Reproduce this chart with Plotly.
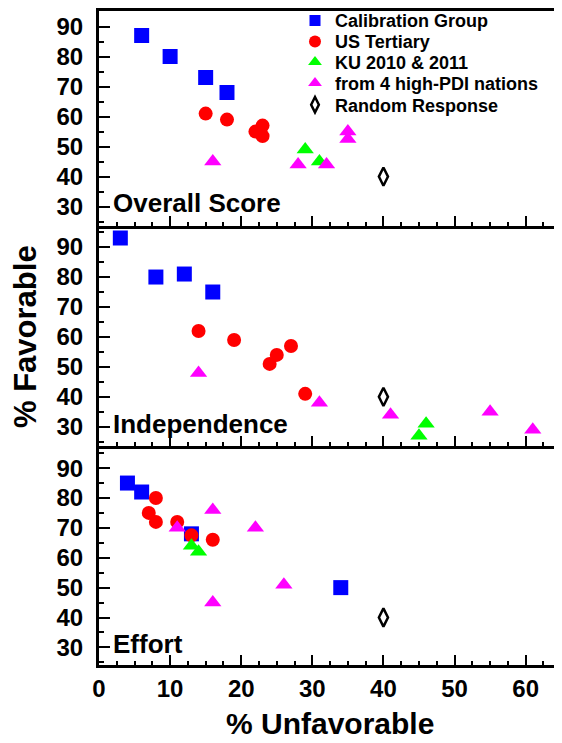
import plotly.graph_objects as go

# ---------------- data ----------------
panel_labels = ["Overall Score", "Independence", "Effort"]

series_names = ["Calibration Group", "US Tertiary", "KU 2010 & 2011",
                "from 4 high-PDI nations", "Random Response"]

cal_x = [[6, 10, 15, 18], [3, 8, 12, 16], [4, 6, 13, 34]]
cal_y = [[87, 80, 73, 68], [93, 80, 81, 75], [85, 82, 68, 50]]

us_x = [[15, 18, 22, 23, 23], [14, 19, 24, 25, 27, 29], [8, 7, 8, 11, 13, 16]]
us_y = [[61, 59, 55, 57, 53.5], [62, 59, 51, 54, 57, 41], [80, 75, 72, 72, 67.5, 66]]

ku_x = [[29, 31], [45, 46], [13, 14]]
ku_y = [[49, 45], [27, 31], [64, 62]]

pdi_x = [[16, 28, 32, 35, 35], [14, 31, 41, 55, 61], [16, 22, 11, 26, 16]]
pdi_y = [[45, 44, 44, 55, 52.5], [48, 38, 34, 35, 29], [76, 70, 70, 51, 45]]

rand_x = [[40], [40], [40]]
rand_y = [[40], [40], [40]]

x_ticks = [0, 10, 20, 30, 40, 50, 60]
y_ticks = [30, 40, 50, 60, 70, 80, 90]

# ---------------- geometry / styles ----------------
W, H = 554, 735          # page has an 8px body margin
L, R, T, B = 91, 4, 3, 78
PW, PH = W - L - R, H - T - B
OFF = 8                  # body margin offset (page px -> figure px)

FONT = "Liberation Sans, Arial, Helvetica, sans-serif"
styles = [
    dict(symbol="square", color="#0000FF", size=15, line=dict(width=0)),
    dict(symbol="circle", color="#FF0000", size=14, line=dict(width=0)),
    dict(symbol="triangle-up", color="#00FF00", size=15, line=dict(width=0)),
    dict(symbol="triangle-up", color="#FF00FF", size=15, line=dict(width=0)),
    dict(symbol="diamond-tall-open", color="black", size=13,
         line=dict(width=2.5, color="black")),
]
legend_styles = [
    dict(symbol="square", color="#0000FF", size=11, line=dict(width=0)),
    dict(symbol="circle", color="#FF0000", size=12, line=dict(width=0)),
    dict(symbol="triangle-up", color="#00FF00", size=12, line=dict(width=0)),
    dict(symbol="triangle-up", color="#FF00FF", size=12, line=dict(width=0)),
    dict(symbol="diamond-tall-open", color="black", size=11,
         line=dict(width=2.5, color="black")),
]

all_x = [cal_x, us_x, ku_x, pdi_x, rand_x]
all_y = [cal_y, us_y, ku_y, pdi_y, rand_y]


def py_to_paper(page_y):
    return (T + PH - (page_y - OFF)) / PH


def px_to_paper(page_x):
    return (page_x - OFF - L) / PW


fig = go.Figure()
for p in range(3):
    xa = "x" if p == 0 else f"x{p+1}"
    ya = "y" if p == 0 else f"y{p+1}"
    for s in range(5):
        fig.add_trace(go.Scatter(
            x=all_x[s][p], y=all_y[s][p], mode="markers",
            marker=styles[s], xaxis=xa, yaxis=ya, showlegend=False,
            name=series_names[s], hoverinfo="x+y+name"))

# legend entries (one legend per row so the rows can be spaced tightly)
legend_rows_px = [20.7, 41.7, 62.3, 83.3, 105.0]
for s in range(5):
    key = "legend" if s == 0 else f"legend{s+1}"
    fig.add_trace(go.Scatter(
        x=[None], y=[None], mode="markers", marker=legend_styles[s],
        name=series_names[s], legend=key, showlegend=True))
    fig.update_layout({key: dict(
        x=px_to_paper(295), y=py_to_paper(legend_rows_px[s]),
        xanchor="left", yanchor="middle",
        bgcolor="rgba(0,0,0,0)", borderwidth=0,
        font=dict(family=FONT, size=18, color="black", weight="bold"),
        itemwidth=30)})

axis_common = dict(showgrid=False, zeroline=False, showline=True,
                   linecolor="black", linewidth=3, ticks="inside",
                   tickcolor="black", tickwidth=2, automargin=False)

# panel boundaries in page pixels (plot-area edges)
bounds_px = [11, 225.8, 446, 665]
domains = []
for p in range(3):
    domains.append([max(0.0, py_to_paper(bounds_px[p + 1])),
                    min(1.0, py_to_paper(bounds_px[p]))])
domains[2][0] = 0.0
domains[0][1] = 1.0
y_ranges = [[23.6, 95.2], [23.6, 97.1], [24.1, 97.4]]

layout = dict(
    width=W, height=H,
    margin=dict(l=L, r=R, t=T, b=B, autoexpand=False),
    paper_bgcolor="white", plot_bgcolor="white",
    font=dict(family=FONT, color="black"),
)
for p in range(3):
    xk = "xaxis" if p == 0 else f"xaxis{p+1}"
    yk = "yaxis" if p == 0 else f"yaxis{p+1}"
    ya = "y" if p == 0 else f"y{p+1}"
    xa = "x" if p == 0 else f"x{p+1}"
    layout[xk] = dict(axis_common, anchor=ya, range=[0, 64.55],
                      tickvals=x_ticks, ticklen=10,
                      minor=dict(dtick=2.5, tick0=0, ticks="inside", ticklen=4,
                                 tickwidth=2, tickcolor="black"),
                      mirror=(p == 0), showticklabels=(p == 2),
                      ticklabelstandoff=0,
                      tickfont=dict(size=24, weight="bold", family=FONT))
    layout[yk] = dict(axis_common, anchor=xa, domain=domains[p],
                      range=y_ranges[p], tickvals=y_ticks, ticklen=11,
                      minor=dict(dtick=5, tick0=0, ticks="inside", ticklen=5,
                                 tickwidth=2, tickcolor="black"),
                      mirror=True, ticklabelstandoff=8,
                      tickfont=dict(size=24, weight="bold", family=FONT))
fig.update_layout(layout)

# panel labels
label_px = [203, 424, 644]
for p in range(3):
    fig.add_annotation(text=panel_labels[p], xref="paper", yref="paper",
                       x=px_to_paper(111), y=py_to_paper(label_px[p]),
                       xanchor="left", yanchor="middle", showarrow=False,
                       font=dict(family=FONT, size=26, weight="bold", color="black"))

# axis titles
fig.add_annotation(text="% Unfavorable", xref="paper", yref="paper",
                   x=px_to_paper(330), y=py_to_paper(723), xanchor="center",
                   yanchor="middle", showarrow=False,
                   font=dict(family=FONT, size=30, weight="bold", color="black"))
fig.add_annotation(text="% Favorable", xref="paper", yref="paper",
                   x=px_to_paper(25), y=py_to_paper(337),
                   xanchor="center", yanchor="middle", showarrow=False,
                   textangle=-90,
                   font=dict(family=FONT, size=31, weight="bold", color="black"))

fig.write_html("out.html")
